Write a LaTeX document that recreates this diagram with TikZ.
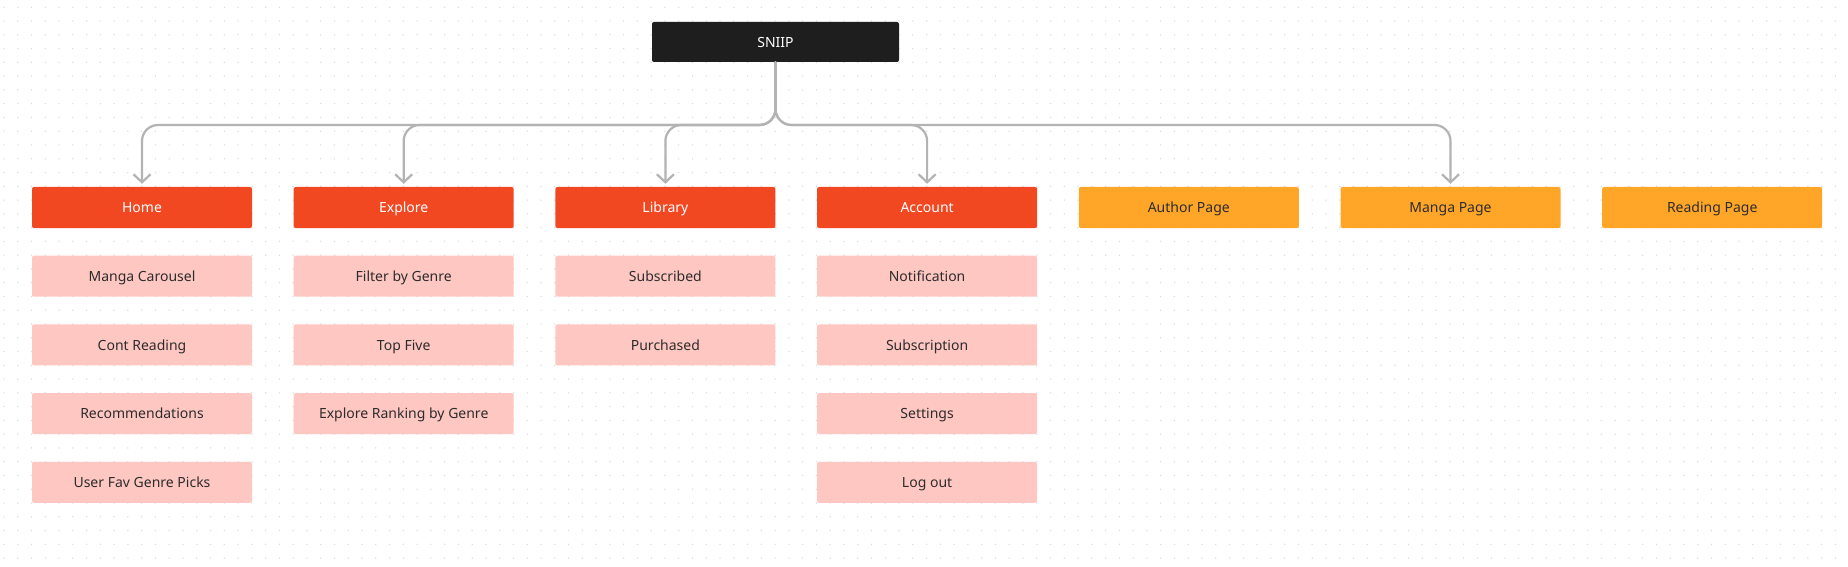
\documentclass[tikz,border=0pt]{standalone}
\usepackage{fontspec}
\setmainfont{Noto Sans}
\usetikzlibrary{arrows.meta}
\definecolor{bgdot}{HTML}{D9D9D9}
\definecolor{darkbox}{HTML}{1E1E1E}
\definecolor{redbox}{HTML}{F24822}
\definecolor{pinkbox}{HTML}{FFC7C2}
\definecolor{orangebox}{HTML}{FFA629}
\definecolor{conncol}{HTML}{B3B3B3}
\definecolor{textdark}{HTML}{2C2C2C}
\tikzset{
  boxbase/.style={rectangle, rounded corners=2pt, inner sep=0pt, text height=12.5pt, text depth=2pt, minimum width=220pt, minimum height=41pt, font=\fontsize{14}{16}\selectfont},
  darknode/.style={boxbase, fill=darkbox, text=white, minimum width=247pt, minimum height=40pt},
  mainpage/.style={boxbase, fill=redbox, text=white},
  subpage/.style={boxbase, fill=pinkbox, text=textdark},
  otherpage/.style={boxbase, fill=orangebox, text=textdark},
  conn/.style={draw=conncol, line width=2.2pt, rounded corners=16pt, line cap=round, line join=round, shorten >=3pt, -{Straight Barb[length=8pt,width=17pt]}}
}
\begin{document}
\begin{tikzpicture}[x=1pt,y=-1pt]
\useasboundingbox[fill=white] (0,0) rectangle (1848,567);
\foreach \i in {0,...,133} {
  \foreach \j in {0,...,40} {
    \fill[bgdot] ({4+13.77*\i},{7.3+13.77*\j}) circle (0.75pt);
  }
}
\node[darknode] (sniip) at (775.5,42) {SNIIP};
% column 1
\node[mainpage] (home) at (142,207.5) {Home};
\node[subpage] (carousel) at (142,276.2) {Manga Carousel};
\node[subpage] (cont) at (142,344.9) {Cont Reading};
\node[subpage] (recs) at (142,413.6) {Recommendations};
\node[subpage] (favs) at (142,482.3) {User Fav Genre Picks};
% column 2
\node[mainpage] (explore) at (403.7,207.5) {Explore};
\node[subpage] (filter) at (403.7,276.2) {Filter by Genre};
\node[subpage] (topfive) at (403.7,344.9) {Top Five};
\node[subpage] (ranking) at (403.7,413.6) {Explore Ranking by Genre};
% column 3
\node[mainpage] (library) at (665.4,207.5) {Library};
\node[subpage] (subscribed) at (665.4,276.2) {Subscribed};
\node[subpage] (purchased) at (665.4,344.9) {Purchased};
% column 4
\node[mainpage] (account) at (927.1,207.5) {Account};
\node[subpage] (notif) at (927.1,276.2) {Notification};
\node[subpage] (subscr) at (927.1,344.9) {Subscription};
\node[subpage] (settings) at (927.1,413.6) {Settings};
\node[subpage] (logout) at (927.1,482.3) {Log out};
% other pages
\node[otherpage] (author) at (1188.8,207.5) {Author Page};
\node[otherpage] (manga) at (1450.5,207.5) {Manga Page};
\node[otherpage] (reading) at (1712.2,207.5) {Reading Page};
% connectors
\coordinate (bus) at (0,125);
\draw[conn] (sniip.south) -- (sniip.south |- bus) -| (home.north);
\draw[conn] (sniip.south) -- (sniip.south |- bus) -| (explore.north);
\draw[conn] (sniip.south) -- (sniip.south |- bus) -| (library.north);
\draw[conn] (sniip.south) -- (sniip.south |- bus) -| (account.north);
\draw[conn] (sniip.south) -- (sniip.south |- bus) -| (manga.north);
\end{tikzpicture}
\end{document}
